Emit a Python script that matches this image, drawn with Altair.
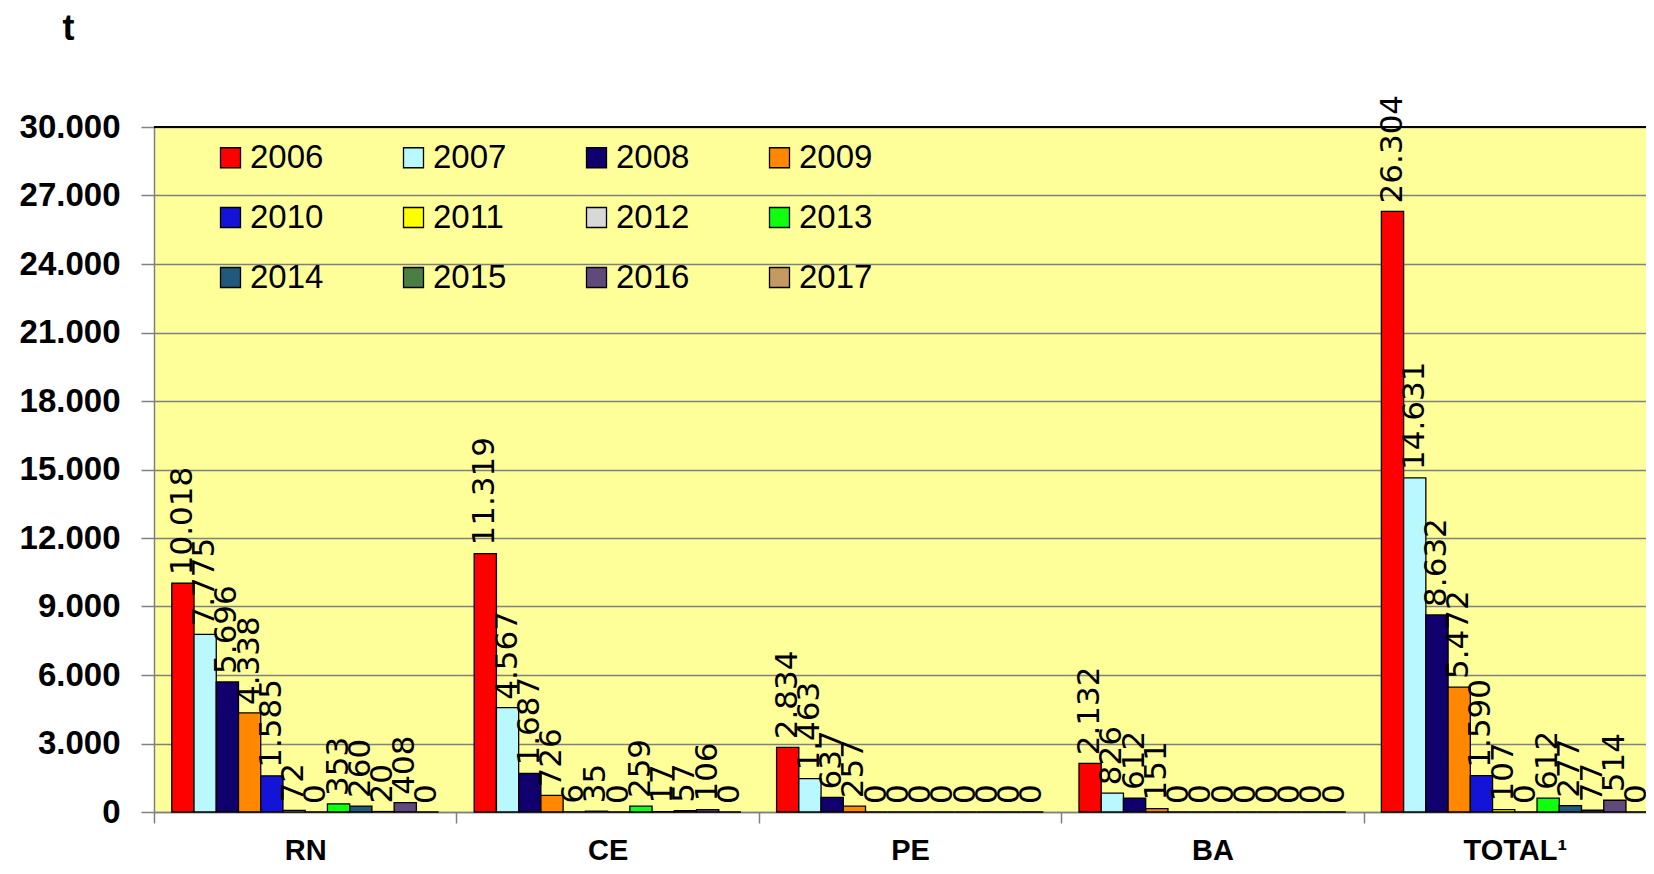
import altair as alt
import pandas as pd

categories = ["RN", "CE", "PE", "BA", "TOTAL¹"]
years = ["2006", "2007", "2008", "2009", "2010", "2011",
         "2012", "2013", "2014", "2015", "2016", "2017"]
rn = [10018, 7775, 5696, 4338, 1585, 72, 0, 353, 260, 20, 408, 0]
ce = [11319, 4567, 1687, 726, 6, 35, 0, 259, 17, 57, 106, 0]
pe = [2834, 1463, 637, 257, 0, 0, 0, 0, 0, 0, 0, 0]
ba = [2132, 826, 612, 151, 0, 0, 0, 0, 0, 0, 0, 0]
total = [26304, 14631, 8632, 5472, 1590, 107, 0, 612, 277, 77, 514, 0]
colors = ["#FF0000", "#B9F8FF", "#10006E", "#FF8800", "#1414D8", "#FFFF00",
          "#D8D8D8", "#10FF10", "#1F5A7C", "#4A7E42", "#604A7C", "#C49A60"]
y_ticks = [0, 3000, 6000, 9000, 12000, 15000, 18000, 21000, 24000, 27000, 30000]
Y_MAX = 30000

rows = []
for cat, vals in zip(categories, [rn, ce, pe, ba, total]):
    for yr, v in zip(years, vals):
        rows.append({"cat": cat, "year": yr, "value": v,
                     "label": f"{v:,}".replace(",", ".")})
df = pd.DataFrame(rows)

base = alt.Chart(df)

x_enc = alt.X("cat:N", sort=categories,
              scale=alt.Scale(paddingInner=0, paddingOuter=0, range=[0, 1512]),
              axis=alt.Axis(title=None, labelAngle=0, labelFont="Liberation Sans",
                            labelFontWeight="bold", labelFontSize=29, labelColor="black",
                            labelPadding=13, tickBand="extent", tickSize=11,
                            tickColor="#808080", tickWidth=1.5, domainColor="#808080",
                            domainWidth=1.5, grid=False))
xo_enc = alt.XOffset("year:N", sort=years,
                     scale=alt.Scale(paddingInner=0, paddingOuter=0.8))
y_enc = alt.Y("value:Q", scale=alt.Scale(domain=[0, Y_MAX], nice=False),
              axis=alt.Axis(values=y_ticks,
                            labelExpr="replace(format(datum.value, ','), ',', '.')",
                            labelFont="Liberation Sans", labelFontWeight="bold",
                            labelFontSize=33, labelColor="black", labelPadding=21,
                            tickSize=13, tickColor="#808080", tickWidth=1.5,
                            domainColor="#808080", domainWidth=1.5,
                            gridColor="#808080", gridWidth=1.5,
                            title="t", titleAngle=0, titleFont="Liberation Sans",
                            titleFontWeight="bold", titleFontSize=36,
                            titleAlign="center", titleBaseline="alphabetic",
                            titleX=-86, titleY=-88))

bars = base.mark_bar(stroke="black", strokeWidth=1.3).encode(
    x=x_enc, xOffset=xo_enc, y=y_enc,
    color=alt.Color("year:N", sort=years,
                    scale=alt.Scale(domain=years, range=colors),
                    legend=alt.Legend(title=None, orient="none", legendX=60, legendY=14,
                                      columns=4, direction="horizontal",
                                      symbolType="square", symbolSize=400,
                                      symbolStrokeColor="black", symbolStrokeWidth=1.3,
                                      labelFont="Liberation Sans", labelFontSize=33,
                                      labelColor="black", labelOffset=3,
                                      columnPadding=73, rowPadding=26, padding=0))
)

labels = base.mark_text(angle=270, align="left", baseline="middle", dx=8,
                        font="DejaVu Sans", fontSize=31, color="black").encode(
    x=x_enc, xOffset=xo_enc, y=y_enc, text="label:N"
)

top_rule = alt.Chart(df).mark_rule(color="black", strokeWidth=2).encode(
    y=alt.datum(Y_MAX)
)

chart = alt.layer(bars, labels, top_rule).properties(
    width=1492, height=685,
    autosize=alt.AutoSizeParams(type="none"),
    padding={"left": 146, "top": 119, "right": 0, "bottom": 54},
    background="white",
).configure_view(fill="#FFFF99", stroke=None)

chart.save("out.html", embed_options={"renderer": "svg", "actions": False})
